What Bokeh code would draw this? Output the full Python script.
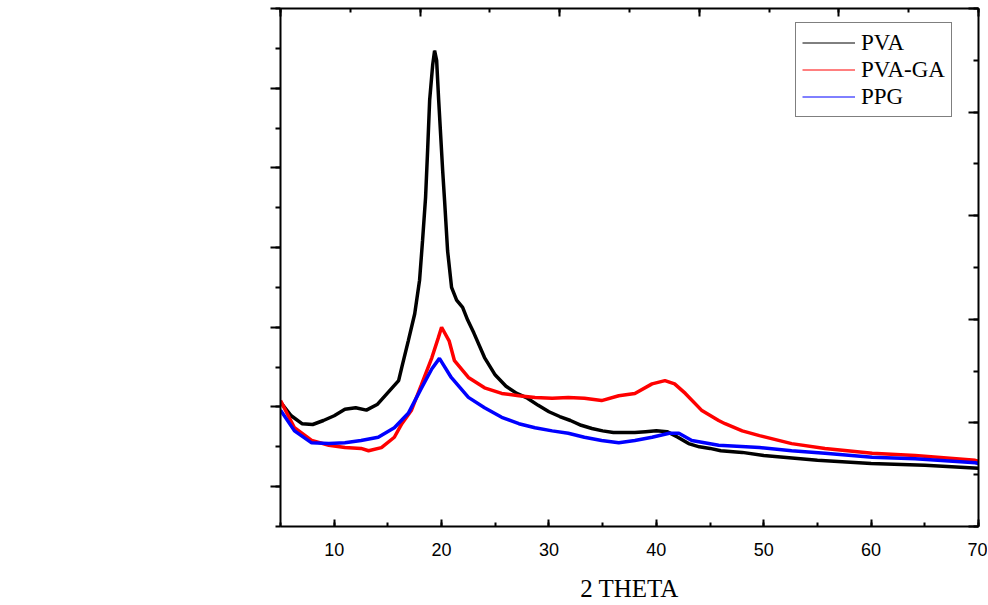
from bokeh.plotting import figure
from bokeh.models import (Range1d, LinearAxis, SingleIntervalTicker, Legend, LegendItem,
                          ColumnDataSource, CustomLabelingPolicy)
from bokeh.embed import file_html
from bokeh.resources import INLINE

# ---- data ----
pva_x = [5, 6, 7, 8, 9, 10, 11, 12, 13, 14, 15, 16, 16.3, 16.9, 17.5, 17.95, 18.23, 18.51, 18.7,
         18.89, 19.17, 19.35, 19.54, 19.73, 20.1, 20.28, 20.56, 20.93, 21.4, 21.96, 22.43,
         23, 24, 25, 26, 27, 28, 29, 30, 31, 32, 33, 34, 35, 36, 37, 38, 39, 40, 41, 42, 43,
         44, 45, 46, 48, 50, 55, 60, 65, 70]
pva_y = [2060, 1890, 1790, 1780, 1830, 1890, 1970, 1990, 1960, 2030, 2180, 2330, 2500, 2830,
         3170, 3590, 4090, 4630, 5220, 5850, 6290, 6470, 6350, 5850, 4970, 4590, 3960, 3500,
         3340, 3250, 3090, 2930, 2620, 2400, 2260, 2170, 2110, 2020, 1940, 1880, 1830, 1770,
         1730, 1700, 1680, 1680, 1680, 1690, 1700, 1690, 1620, 1540, 1500, 1480, 1450, 1430,
         1390, 1330, 1290, 1270, 1230]

pvaga_x = [5, 6.3, 7.9, 9.5, 11, 12.5, 13.2, 14.4, 15.6, 16.3, 17.2, 18.1, 19.1, 19.7, 20.0,
           20.7, 21.2, 22.5, 24, 25.6, 27.2, 28.7, 30.3, 31.8, 33.3, 34.9, 36.5, 38, 39.6,
           40.8, 41.7, 42.7, 44.2, 45.8, 46.4, 48, 49.6, 52.6, 55.7, 60.1, 64.1, 69.7, 70]
pvaga_y = [2080, 1740, 1580, 1520, 1490, 1480, 1450, 1490, 1620, 1790, 1960, 2270, 2620, 2870,
           3000, 2830, 2580, 2370, 2240, 2170, 2140, 2120, 2110, 2120, 2110, 2080, 2140, 2170,
           2290, 2330, 2290, 2170, 1960, 1830, 1790, 1700, 1640, 1540, 1480, 1420, 1390, 1330,
           1320]

ppg_x = [5, 6.3, 7.9, 9.5, 11, 12.5, 14.1, 15.6, 16.9, 18.1, 19.1, 19.8, 20.9, 22.5, 24, 25.6,
         27.2, 28.7, 30.3, 31.8, 33.3, 34.9, 36.5, 38, 39.6, 41.2, 42.1, 43.3, 45.8, 49.6,
         52.6, 55.7, 60.1, 64.1, 69.7, 70]
ppg_y = [1960, 1700, 1550, 1540, 1550, 1580, 1620, 1740, 1920, 2230, 2480, 2610, 2370, 2120,
         1990, 1870, 1790, 1740, 1700, 1670, 1620, 1580, 1550, 1580, 1620, 1670, 1670, 1580,
         1520, 1490, 1450, 1420, 1370, 1350, 1300, 1290]

series_names = ["PVA", "PVA-GA", "PPG"]
series_colors = ["#000000", "#ff0000", "#0000ff"]

p = figure(frame_width=698, frame_height=518, x_range=Range1d(5, 70), y_range=Range1d(500, 7000),
           output_backend="svg", toolbar_location=None,
           min_border_left=280, min_border_right=9, min_border_top=8, min_border_bottom=70,
           x_axis_location=None, y_axis_location=None)
p.grid.visible = False
p.outline_line_color = None
p.background_fill_color = "white"

p.extra_x_ranges = {"top": Range1d(0, 5)}
p.extra_y_ranges = {"right": Range1d(0, 10)}

no_labels = CustomLabelingPolicy(code="""
try { for (let i = 0; i < indices.size; i++) { indices.unset(i) } }
catch (e) { for (let i = 0; i < indices.size; i++) { indices.set(i, false) } }
return indices
""")


def unlabeled(axis):
    axis.major_label_policy = no_labels
    axis.major_label_text_font_size = "1px"
    axis.major_label_standoff = 0


def style(axis, maj_in, maj_out, min_in, min_out):
    axis.axis_line_width = 2
    axis.major_tick_in = maj_in
    axis.major_tick_out = maj_out
    axis.minor_tick_in = min_in
    axis.minor_tick_out = min_out
    axis.major_tick_line_width = 2
    axis.minor_tick_line_width = 2


# bottom axis
xb = LinearAxis(ticker=SingleIntervalTicker(interval=10, num_minor_ticks=2),
                axis_label="2 THETA")
style(xb, 7, 0, 4, 0)
xb.major_label_text_font = "Liberation Sans"
xb.major_label_text_font_size = "18px"
xb.major_label_text_color = "#000000"
xb.major_label_standoff = 16
xb.axis_label_text_font = "Liberation Serif"
xb.axis_label_text_font_size = "25px"
xb.axis_label_text_font_style = "normal"
xb.axis_label_text_color = "#000000"
xb.axis_label_standoff = 16
p.add_layout(xb, "below")

# left axis
yl = LinearAxis(ticker=SingleIntervalTicker(interval=1000, num_minor_ticks=2))
style(yl, 0, 10, 0, 5)
unlabeled(yl)
p.add_layout(yl, "left")

# top axis
xt = LinearAxis(x_range_name="top", ticker=SingleIntervalTicker(interval=1, num_minor_ticks=2))
style(xt, 8, 0, 4, 0)
unlabeled(xt)
p.add_layout(xt, "above")

# right axis
yr = LinearAxis(y_range_name="right", ticker=SingleIntervalTicker(interval=2, num_minor_ticks=2))
style(yr, 10, 0, 5, 0)
unlabeled(yr)
p.add_layout(yr, "right")

items = []
for xs, ys, name, col in [(pva_x, pva_y, series_names[0], series_colors[0]),
                          (pvaga_x, pvaga_y, series_names[1], series_colors[1]),
                          (ppg_x, ppg_y, series_names[2], series_colors[2])]:
    src = ColumnDataSource(dict(x=xs, y=ys))
    p.line("x", "y", source=src, line_color=col, line_width=3.5)
    thin = p.line("x", "y", source=src, line_color=col, line_width=1)
    items.append(LegendItem(label=name, renderers=[thin]))

legend = Legend(items=items, location=(515, 409))
legend.label_text_font = "Liberation Serif"
legend.label_text_font_size = "23px"
legend.label_text_color = "#000000"
legend.glyph_width = 53
legend.glyph_height = 27
legend.label_height = 27
legend.label_standoff = 6
legend.spacing = 0
legend.padding = 6
legend.margin = 0
legend.border_line_color = "#000000"
legend.border_line_width = 1
legend.background_fill_alpha = 1
p.add_layout(legend, "center")

open("out.html", "w").write(file_html(p, INLINE))
